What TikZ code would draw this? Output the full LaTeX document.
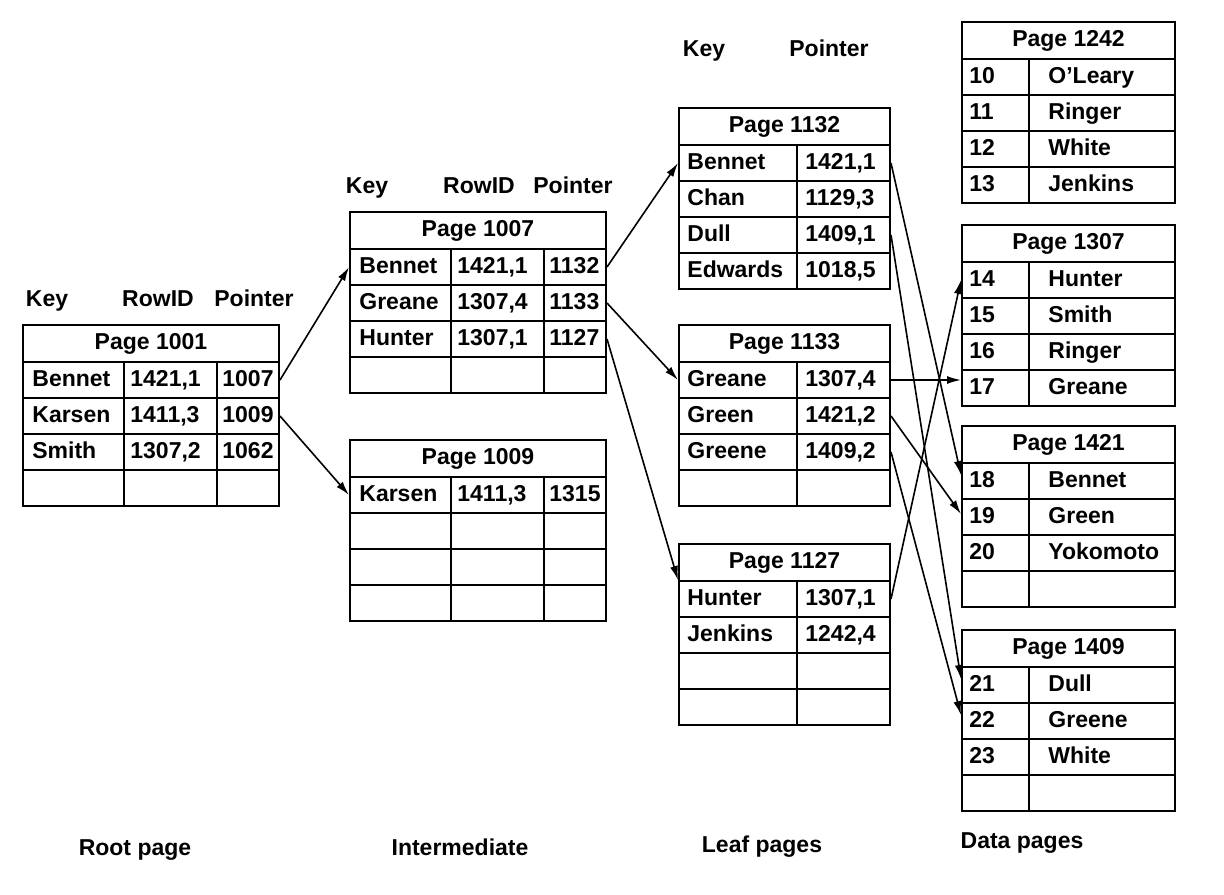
\documentclass[tikz,border=0pt]{standalone}
\usepackage{fontspec}
\newfontfamily\pagefont{Liberation Sans}
\usetikzlibrary{arrows.meta}

%% one boxed cell: name, x, y, width, height, text, text inset (px)
\newcommand{\tabcell}[7]{%
  \node[cell, minimum width=#4*0.5pt, minimum height=#5*0.5pt,
        label={[anchor=west, xshift=#7*0.5pt]west:{#6}}] (#1) at (#2,#3) {};}
%% page title bar: name, x, y, width, text
\newcommand{\pagehead}[5]{%
  \node[cell, minimum width=#4*0.5pt, minimum height=37*0.5pt] (#1) at (#2,#3) {#5};}
%% index row: key, rowid, pointer
\newcommand{\idxrow}[6]{%
  \tabcell{#1-k}{#2}{#3}{101}{36}{#4}{10}
  \tabcell{#1-r}{#2+101}{#3}{93}{36}{#5}{7}
  \tabcell{#1-p}{#2+194}{#3}{62}{36}{#6}{6}}
%% leaf row: key, rowid
\newcommand{\leafrow}[5]{%
  \tabcell{#1-k}{#2}{#3}{118}{36}{#4}{9}
  \tabcell{#1-r}{#2+118}{#3}{93}{36}{#5}{9}}
%% data row: slot, name
\newcommand{\datarow}[5]{%
  \tabcell{#1-n}{#2}{#3}{67}{36}{#4}{8}
  \tabcell{#1-v}{#2+67}{#3}{146}{36}{#5}{20}}

\begin{document}
\begin{tikzpicture}[
  x=0.5pt,
  y=-0.5pt,
  every node/.style={font=\pagefont\bfseries\fontsize{11.5}{13}\selectfont,
                     inner sep=0pt, text height=8.5pt, text depth=2.5pt},
  cell/.style={draw, line width=1pt, anchor=north west},
  ptr/.style={line width=0.8pt, -{Latex[length=7pt, width=4pt]}}
]
  \useasboundingbox (0,0) rectangle (1224,894);

  %% ---- root page ---------------------------------------------------------
  \node (k1001) at (47,300) {Key};
  \node (r1001) at (158,300) {RowID};
  \node (q1001) at (254,300) {Pointer};
  \pagehead{p1001}{22}{324}{256}{Page 1001}
  \idxrow{p1001-1}{22}{361}{Bennet}{1421,1}{1007}
  \idxrow{p1001-2}{22}{397}{Karsen}{1411,3}{1009}
  \idxrow{p1001-3}{22}{433}{Smith}{1307,2}{1062}
  \idxrow{p1001-4}{22}{469}{}{}{}

  %% ---- intermediate pages ------------------------------------------------
  \node (k1007) at (367,187) {Key};
  \node (r1007) at (479,187) {RowID};
  \node (q1007) at (573,187) {Pointer};
  \pagehead{p1007}{349}{211}{256}{Page 1007}
  \idxrow{p1007-1}{349}{248}{Bennet}{1421,1}{1132}
  \idxrow{p1007-2}{349}{284}{Greane}{1307,4}{1133}
  \idxrow{p1007-3}{349}{320}{Hunter}{1307,1}{1127}
  \idxrow{p1007-4}{349}{356}{}{}{}

  \pagehead{p1009}{349}{439}{256}{Page 1009}
  \idxrow{p1009-1}{349}{476}{Karsen}{1411,3}{1315}
  \idxrow{p1009-2}{349}{512}{}{}{}
  \idxrow{p1009-3}{349}{548}{}{}{}
  \idxrow{p1009-4}{349}{584}{}{}{}

  %% ---- leaf pages --------------------------------------------------------
  \node (k1132) at (704,50) {Key};
  \node (q1132) at (829,50) {Pointer};
  \pagehead{p1132}{678}{107}{211}{Page 1132}
  \leafrow{p1132-1}{678}{144}{Bennet}{1421,1}
  \leafrow{p1132-2}{678}{180}{Chan}{1129,3}
  \leafrow{p1132-3}{678}{216}{Dull}{1409,1}
  \leafrow{p1132-4}{678}{252}{Edwards}{1018,5}

  \pagehead{p1133}{678}{324}{211}{Page 1133}
  \leafrow{p1133-1}{678}{361}{Greane}{1307,4}
  \leafrow{p1133-2}{678}{397}{Green}{1421,2}
  \leafrow{p1133-3}{678}{433}{Greene}{1409,2}
  \leafrow{p1133-4}{678}{469}{}{}

  \pagehead{p1127}{678}{543}{211}{Page 1127}
  \leafrow{p1127-1}{678}{580}{Hunter}{1307,1}
  \leafrow{p1127-2}{678}{616}{Jenkins}{1242,4}
  \leafrow{p1127-3}{678}{652}{}{}
  \leafrow{p1127-4}{678}{688}{}{}

  %% ---- data pages --------------------------------------------------------
  \pagehead{p1242}{961}{21}{213}{Page 1242}
  \datarow{p1242-1}{961}{58}{10}{O’Leary}
  \datarow{p1242-2}{961}{94}{11}{Ringer}
  \datarow{p1242-3}{961}{130}{12}{White}
  \datarow{p1242-4}{961}{166}{13}{Jenkins}

  \pagehead{p1307}{961}{224}{213}{Page 1307}
  \datarow{p1307-1}{961}{261}{14}{Hunter}
  \datarow{p1307-2}{961}{297}{15}{Smith}
  \datarow{p1307-3}{961}{333}{16}{Ringer}
  \datarow{p1307-4}{961}{369}{17}{Greane}

  \pagehead{p1421}{961}{425}{213}{Page 1421}
  \datarow{p1421-1}{961}{462}{18}{Bennet}
  \datarow{p1421-2}{961}{498}{19}{Green}
  \datarow{p1421-3}{961}{534}{20}{Yokomoto}
  \datarow{p1421-4}{961}{570}{}{}

  \pagehead{p1409}{961}{629}{213}{Page 1409}
  \datarow{p1409-1}{961}{666}{21}{Dull}
  \datarow{p1409-2}{961}{702}{22}{Greene}
  \datarow{p1409-3}{961}{738}{23}{White}
  \datarow{p1409-4}{961}{774}{}{}

  %% ---- pointers ----------------------------------------------------------
  \draw[ptr] (p1001-1-p.east) -- (p1007-1-k.west);
  \draw[ptr] (p1001-2-p.east) -- (p1009-1-k.west);
  \draw[ptr] (p1007-1-p.east) -- (p1132-1-k.west);
  \draw[ptr] (p1007-2-p.east) -- (p1133-1-k.west);
  \draw[ptr] (p1007-3-p.east) -- (p1127-1-k.north west);

  \draw[ptr] (p1132-1-r.east) -- ([yshift=3pt]p1421-1-n.west);
  \draw[ptr] (p1132-3-r.east) -- ([yshift=3pt]p1409-1-n.west);
  \draw[ptr] (p1133-1-r.east) -- (p1133-1-r.east -| p1307-4-n.west);
  \draw[ptr] (p1133-2-r.east) -- ([yshift=1.5pt]p1421-2-n.west);
  \draw[ptr] (p1133-3-r.east) -- ([yshift=3pt]p1409-2-n.west);
  \draw[ptr] (p1127-1-r.east) -- (p1307-1-n.west);

  %% ---- captions ----------------------------------------------------------
  \node (capRoot) at (135,849) {Root page};
  \node (capMid) at (460,849) {Intermediate};
  \node (capLeaf) at (762,846) {Leaf pages};
  \node (capData) at (1022,842) {Data pages};
\end{tikzpicture}
\end{document}
